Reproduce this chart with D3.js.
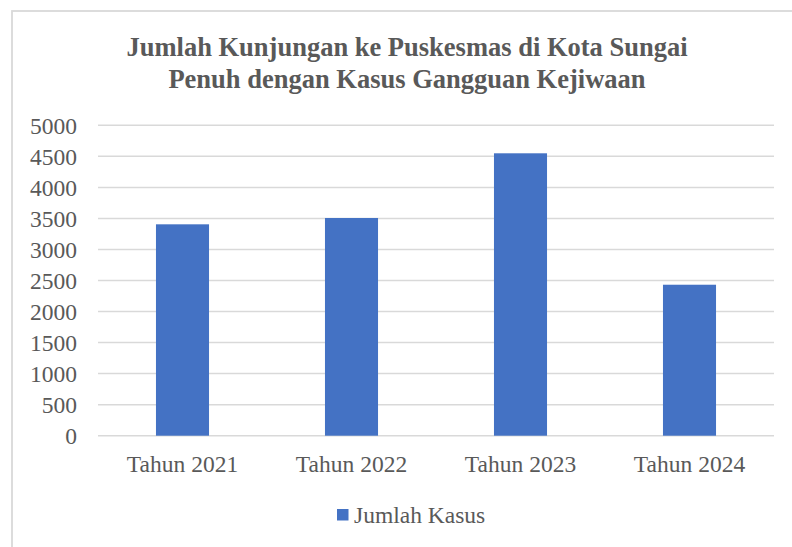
<!DOCTYPE html>
<html>
<head>
<meta charset="utf-8">
<script src="https://cdn.jsdelivr.net/npm/d3@7"></script>
<style>
  body { margin: 0; background: #fff; }
</style>
</head>
<body>
<svg id="chart" width="792" height="547"></svg>
<script>
// chart data
const categories = ["Tahun 2021", "Tahun 2022", "Tahun 2023", "Tahun 2024"];
const jumlahKasus = [3405, 3507, 4549, 2432];
const yTicks = [0, 500, 1000, 1500, 2000, 2500, 3000, 3500, 4000, 4500, 5000];
const titleLines = ["Jumlah Kunjungan ke Puskesmas di Kota Sungai", "Penuh dengan Kasus Gangguan Kejiwaan"];
const seriesName = "Jumlah Kasus";

const FONT = "Liberation Serif";
const TEXT = "#595959";

const svg = d3.select("#chart");
const plot = {left: 98, right: 774, top: 125.3, bottom: 435.7};

// outer chart border (runs off the right/bottom edge like the source)
svg.append("rect")
  .attr("x", 12).attr("y", 11)
  .attr("width", 792).attr("height", 560)
  .attr("fill", "none")
  .attr("stroke", "#d9d9d9")
  .attr("stroke-width", 1.8);

svg.selectAll("text.title")
  .data(titleLines)
  .enter()
  .append("text")
  .attr("class", "title")
  .attr("x", 407)
  .attr("y", (d, i) => 55.7 + i * 32)
  .attr("text-anchor", "middle")
  .attr("font-family", FONT)
  .attr("font-size", 26.5)
  .attr("font-weight", "bold")
  .attr("fill", TEXT)
  .text(d => d);

const x = d3.scaleBand()
  .domain(categories)
  .range([plot.left, plot.right])
  .paddingInner(0.686)
  .paddingOuter(0.343);

const y = d3.scaleLinear()
  .domain([0, 5000])
  .range([plot.bottom, plot.top]);

// gridlines
svg.append("g")
  .selectAll("line")
  .data(yTicks)
  .enter()
  .append("line")
  .attr("x1", plot.left).attr("x2", plot.right)
  .attr("y1", d => y(d)).attr("y2", d => y(d))
  .attr("stroke", "#d9d9d9")
  .attr("stroke-width", 1.5);

// y axis labels
const yAxis = svg.append("g")
  .attr("transform", `translate(${plot.left - 21},0)`)
  .call(d3.axisLeft(y).tickValues(yTicks).tickSize(0).tickPadding(0).tickFormat(d3.format("d")));
yAxis.select(".domain").remove();
yAxis.attr("font-family", FONT).attr("font-size", 23.5);
yAxis.selectAll("text")
  .attr("fill", TEXT)
  .attr("dy", "0.33em");

// bars
svg.append("g")
  .selectAll("rect")
  .data(jumlahKasus)
  .enter()
  .append("rect")
  .attr("x", (d, i) => x(categories[i]))
  .attr("y", d => y(d))
  .attr("width", x.bandwidth())
  .attr("height", d => y(0) - y(d))
  .attr("fill", "#4472c4");

// x axis labels
const xAxis = svg.append("g")
  .attr("transform", `translate(0,${plot.bottom})`)
  .call(d3.axisBottom(x).tickSize(0).tickPadding(0));
xAxis.select(".domain").remove();
xAxis.attr("font-family", FONT).attr("font-size", 23.5);
xAxis.selectAll("text")
  .attr("fill", TEXT)
  .attr("dy", null)
  .attr("y", 36);

// legend
const legend = svg.append("g").attr("transform", "translate(337,509)");
legend.append("rect")
  .attr("width", 11.5).attr("height", 11.5)
  .attr("fill", "#4472c4");
legend.append("text")
  .attr("x", 17).attr("y", 14)
  .attr("font-family", FONT)
  .attr("font-size", 23.5)
  .attr("fill", TEXT)
  .text(seriesName);
</script>
</body>
</html>
